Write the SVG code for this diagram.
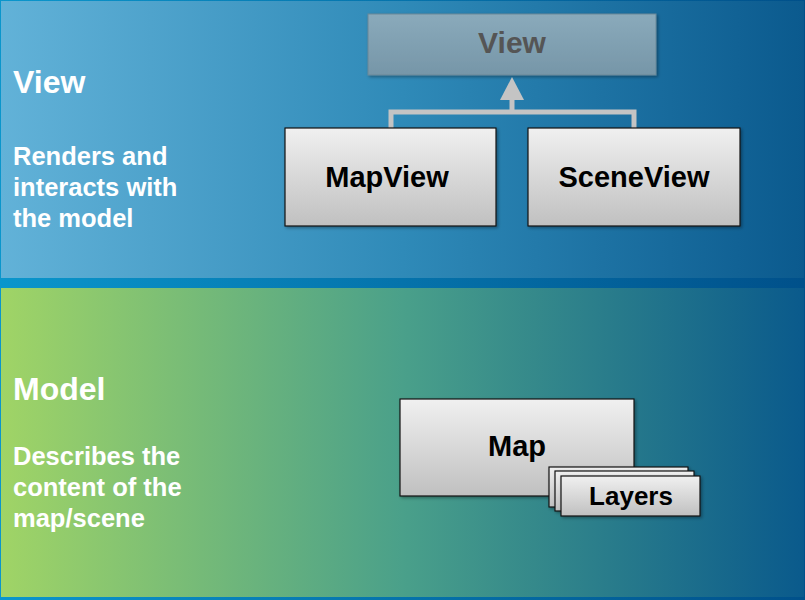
<svg xmlns="http://www.w3.org/2000/svg" width="805" height="600" viewBox="0 0 805 600">
<defs>
<linearGradient id="bg" x1="0" y1="0" x2="1" y2="0"><stop offset="0" stop-color="#0a96cc"/><stop offset="1" stop-color="#00508a"/></linearGradient>
<linearGradient id="top" x1="0" y1="0" x2="1" y2="0"><stop offset="0" stop-color="#62b2d8"/><stop offset="0.5" stop-color="#2f8ab8"/><stop offset="1" stop-color="#0b5a8e"/></linearGradient>
<linearGradient id="bot" x1="0" y1="0" x2="1" y2="0"><stop offset="0" stop-color="#a0d466"/><stop offset="0.5" stop-color="#4aa08a"/><stop offset="1" stop-color="#0a5a8c"/></linearGradient>
<linearGradient id="box" x1="0" y1="0" x2="0" y2="1"><stop offset="0" stop-color="#f0f0f0"/><stop offset="1" stop-color="#c0c0c0"/></linearGradient>
<linearGradient id="vbox" x1="0" y1="0" x2="0" y2="1"><stop offset="0" stop-color="#8aaabb"/><stop offset="1" stop-color="#7696a8"/></linearGradient>
<filter id="sh" x="-10%" y="-10%" width="130%" height="130%"><feDropShadow dx="1.5" dy="1.5" stdDeviation="1.5" flood-color="#000" flood-opacity="0.35"/></filter>
</defs>
<style>
.lbl{font-family:"Liberation Sans",Arial,sans-serif;font-weight:bold;fill:#fff}
.h{font-size:32px}
.d{font-size:25.5px}
.bx{fill:url(#box);stroke:#111;stroke-width:1.2;filter:url(#sh)}
.t{font-family:"Liberation Sans",Arial,sans-serif;font-weight:bold;font-size:29px;fill:#000;text-anchor:middle}
.conn{fill:none;stroke:#c4c4c4;stroke-width:5}
</style>
<rect x="0" y="0" width="805" height="600" fill="url(#bg)"/>
<rect x="1" y="1" width="803" height="277" fill="url(#top)"/>
<rect x="1" y="288" width="803" height="309" fill="url(#bot)"/>
<g id="view-text">
<text class="lbl h" x="13" y="93">View</text>
<text class="lbl d" x="13" y="165">Renders and</text>
<text class="lbl d" x="13" y="196">interacts with</text>
<text class="lbl d" x="13" y="227">the model</text>
</g>
<g id="model-text">
<text class="lbl h" x="13" y="400">Model</text>
<text class="lbl d" x="13" y="465">Describes the</text>
<text class="lbl d" x="13" y="496">content of the</text>
<text class="lbl d" x="13" y="527">map/scene</text>
</g>
<g id="view">
<rect x="368" y="14" width="288" height="61" fill="url(#vbox)" stroke="#6a8898" stroke-width="1" filter="url(#sh)"/>
<text class="t" x="512" y="53" style="fill:#555;font-size:30px">View</text>
</g>
<g id="connectors">
<polyline class="conn" points="391,128 391,112 634,112 634,128"/>
<line class="conn" x1="512" y1="112" x2="512" y2="98"/>
<polygon points="512,77 500,100 524,100" fill="#c4c4c4"/>
</g>
<g id="mapview">
<rect class="bx" x="285" y="128" width="211" height="98"/>
<text class="t" x="387" y="187">MapView</text>
</g>
<g id="sceneview">
<rect class="bx" x="528" y="128" width="212" height="98"/>
<text class="t" x="634" y="187">SceneView</text>
</g>
<g id="map">
<rect class="bx" x="400" y="399" width="234" height="97"/>
<text class="t" x="517" y="456">Map</text>
</g>
<g id="layers">
<rect class="bx" x="549" y="467" width="139" height="40"/>
<rect class="bx" x="555" y="471" width="139" height="40"/>
<rect class="bx" x="561" y="476" width="139" height="40"/>
<text class="t" x="631" y="505" style="font-size:26px">Layers</text>
</g>
</svg>
